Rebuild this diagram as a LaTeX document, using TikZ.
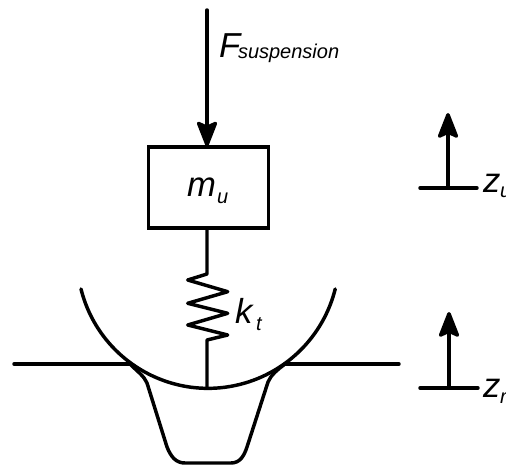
\documentclass[tikz,border=0pt]{standalone}
\usepackage{fontspec}
\setmainfont{Liberation Sans}
\usetikzlibrary{arrows.meta}
\tikzset{
  ln/.style={line width=2.6pt,line cap=round,line join=round},
  arw/.style={ln,-{Stealth[length=22pt,width=17pt,inset=4pt,round]}},
  big/.style={inner sep=0,outer sep=0,anchor=base west,font=\fontsize{26}{26}\selectfont\itshape},
  small/.style={inner sep=0,outer sep=0,anchor=base west,font=\fontsize{15}{15}\selectfont\itshape},
  massbox/.style={draw,line width=2.8pt,minimum width=90pt,minimum height=60.5pt,inner sep=0,outer sep=0}
}
\begin{document}
\begin{tikzpicture}[x=0.75pt,y=0.75pt]
\useasboundingbox (0,0) rectangle (506,464);
% mass
\node[massbox] (mass) at (208.5,276.5) {};
\coordinate (ftop) at (207,454);
\coordinate (ftip) at (207,317.5);
\draw[arw] (ftop) -- (ftip);
% spring and axle
\coordinate (sa) at (207,190);
\coordinate (hub) at (207,76);
\draw[ln] (mass.south -| sa) -- (sa) -- (187.7,184) -- (227.7,172.3) -- (187.7,160.7) -- (227.7,150.7) -- (187.7,139) -- (227.7,129) -- (207,124) -- (hub);
% tyre
\coordinate (tyrestart) at (81,175);
\draw[ln] (tyrestart) arc[start angle=194,end angle=346,radius=131];
% road
\coordinate (rl) at (14,100);
\coordinate (rla) at (130,100);
\coordinate (rra) at (285,100);
\coordinate (rr) at (399,100);
\draw[ln] (rl) -- (rla);
\draw[ln] (rra) -- (rr);
% pit
\draw[ln] (rla) .. controls (138,92) and (144,88) .. (147,81)
  -- (167,17) .. controls (171,7) and (176,1) .. (185,1)
  -- (231,1) .. controls (240,1) and (244,8) .. (247,17)
  -- (268,82) .. controls (271,89) and (277,94) .. (rra);
% z markers
\coordinate (ua) at (420,276);
\coordinate (ub) at (477,276);
\coordinate (ur) at (448,276);
\coordinate (ut) at (448,351);
\draw[ln] (ua) -- (ub);
\draw[arw] (ur) -- (ut);
\coordinate (ra) at (420,76);
\coordinate (rb) at (478,76);
\coordinate (rc) at (449,76);
\coordinate (rt) at (449,152);
\draw[ln] (ra) -- (rb);
\draw[arw] (rc) -- (rt);
% labels
\node[big] (lf) at (219,406) {F};
\node[small] (lfs) at (238,405) {suspension};
\node[big] (lm) at (187,267) {m};
\node[small] (lmu) at (217,260) {u};
\node[big] (lk) at (235,141) {k};
\node[small] (lkt) at (256,133) {t};
\node[big] (lzu) at (483,271) {z};
\node[small] (lzus) at (500,266) {u};
\node[big] (lzr) at (483,67) {z};
\node[small] (lzrs) at (500,61) {r};
\end{tikzpicture}
\end{document}
